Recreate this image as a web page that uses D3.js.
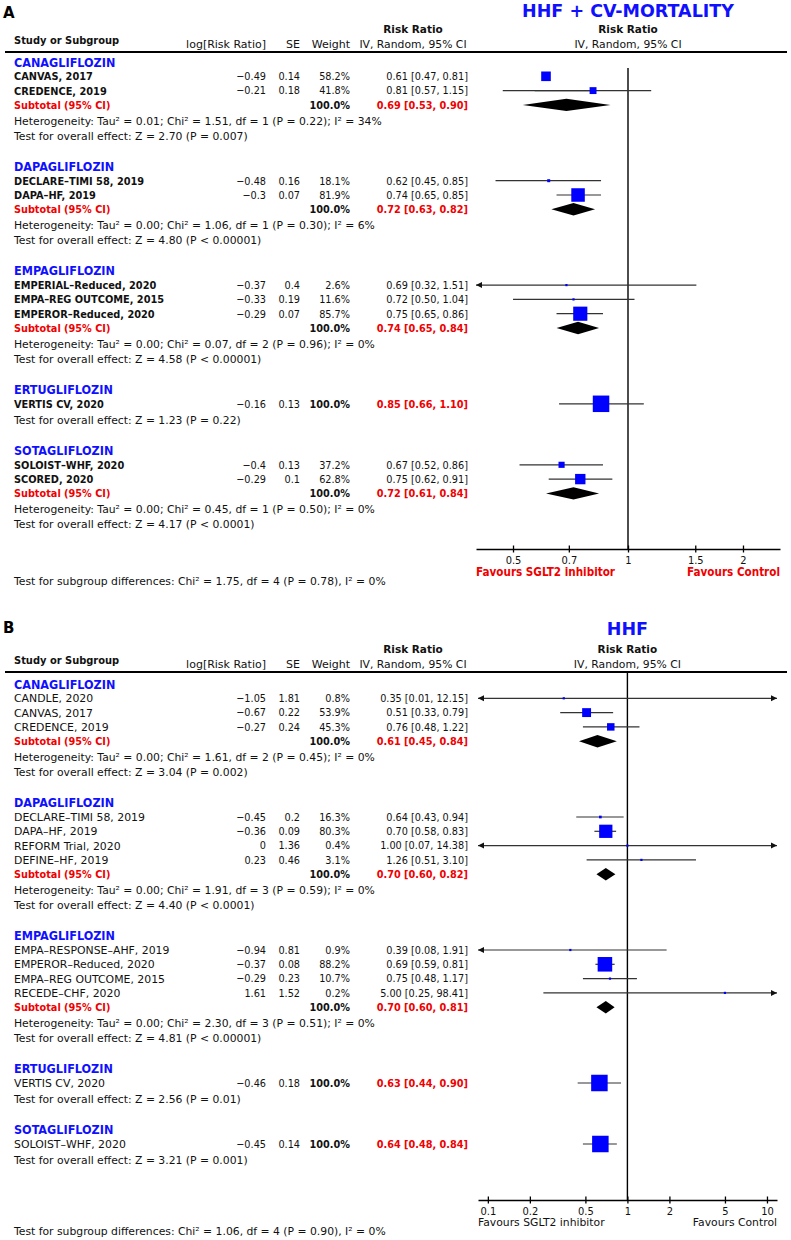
<!DOCTYPE html>
<html><head><meta charset="utf-8">
<script src="https://cdn.jsdelivr.net/npm/d3@7"></script>
<style>
body{margin:0;background:#fff}
svg text{fill:#111}
</style>
</head><body><svg id="c" width="791" height="1240"></svg>
<script>
// ---------------- DATA : panel A (HHF + CV-MORTALITY) ----------------
const groupsA = ["CANAGLIFLOZIN","DAPAGLIFLOZIN","EMPAGLIFLOZIN","ERTUGLIFLOZIN","SOTAGLIFLOZIN"];
const studiesA = [
  {g:0, name:"CANVAS, 2017",          logRR:-0.49, se:0.14, w:58.2,  rr:0.61, lo:0.47, hi:0.81},
  {g:0, name:"CREDENCE, 2019",        logRR:-0.21, se:0.18, w:41.8,  rr:0.81, lo:0.57, hi:1.15},
  {g:1, name:"DECLARE–TIMI 58, 2019", logRR:-0.48, se:0.16, w:18.1,  rr:0.62, lo:0.45, hi:0.85},
  {g:1, name:"DAPA–HF, 2019",         logRR:-0.3,  se:0.07, w:81.9,  rr:0.74, lo:0.65, hi:0.85},
  {g:2, name:"EMPERIAL–Reduced, 2020",logRR:-0.37, se:0.4,  w:2.6,   rr:0.69, lo:0.32, hi:1.51},
  {g:2, name:"EMPA–REG OUTCOME, 2015",logRR:-0.33, se:0.19, w:11.6,  rr:0.72, lo:0.50, hi:1.04},
  {g:2, name:"EMPEROR–Reduced, 2020", logRR:-0.29, se:0.07, w:85.7,  rr:0.75, lo:0.65, hi:0.86},
  {g:3, name:"VERTIS CV, 2020",       logRR:-0.16, se:0.13, w:100.0, rr:0.85, lo:0.66, hi:1.10},
  {g:4, name:"SOLOIST–WHF, 2020",     logRR:-0.4,  se:0.13, w:37.2,  rr:0.67, lo:0.52, hi:0.86},
  {g:4, name:"SCORED, 2020",          logRR:-0.29, se:0.1,  w:62.8,  rr:0.75, lo:0.62, hi:0.91}
];
const subtotalsA = [
  {rr:0.69, lo:0.53, hi:0.90}, {rr:0.72, lo:0.63, hi:0.82}, {rr:0.74, lo:0.65, hi:0.84},
  null, {rr:0.72, lo:0.61, hi:0.84}
];
const hetA = [
  "Heterogeneity: Tau² = 0.01; Chi² = 1.51, df = 1 (P = 0.22); I² = 34%",
  "Heterogeneity: Tau² = 0.00; Chi² = 1.06, df = 1 (P = 0.30); I² = 6%",
  "Heterogeneity: Tau² = 0.00; Chi² = 0.07, df = 2 (P = 0.96); I² = 0%",
  null,
  "Heterogeneity: Tau² = 0.00; Chi² = 0.45, df = 1 (P = 0.50); I² = 0%"
];
const overallA = [
  "Test for overall effect: Z = 2.70 (P = 0.007)",
  "Test for overall effect: Z = 4.80 (P < 0.00001)",
  "Test for overall effect: Z = 4.58 (P < 0.00001)",
  "Test for overall effect: Z = 1.23 (P = 0.22)",
  "Test for overall effect: Z = 4.17 (P < 0.0001)"
];
const ticksA = [0.5, 0.7, 1, 1.5, 2];
const axisDomainA = [0.4, 2.5];
const subgroupDiffA = "Test for subgroup differences: Chi² = 1.75, df = 4 (P = 0.78), I² = 0%";

// ---------------- DATA : panel B (HHF) ----------------
const groupsB = ["CANAGLIFLOZIN","DAPAGLIFLOZIN","EMPAGLIFLOZIN","ERTUGLIFLOZIN","SOTAGLIFLOZIN"];
const studiesB = [
  {g:0, name:"CANDLE, 2020",            logRR:-1.05, se:1.81, w:0.8,   rr:0.35, lo:0.01, hi:12.15},
  {g:0, name:"CANVAS, 2017",            logRR:-0.67, se:0.22, w:53.9,  rr:0.51, lo:0.33, hi:0.79},
  {g:0, name:"CREDENCE, 2019",          logRR:-0.27, se:0.24, w:45.3,  rr:0.76, lo:0.48, hi:1.22},
  {g:1, name:"DECLARE–TIMI 58, 2019",   logRR:-0.45, se:0.2,  w:16.3,  rr:0.64, lo:0.43, hi:0.94},
  {g:1, name:"DAPA–HF, 2019",           logRR:-0.36, se:0.09, w:80.3,  rr:0.70, lo:0.58, hi:0.83},
  {g:1, name:"REFORM Trial, 2020",      logRR:0,     se:1.36, w:0.4,   rr:1.00, lo:0.07, hi:14.38},
  {g:1, name:"DEFINE–HF, 2019",         logRR:0.23,  se:0.46, w:3.1,   rr:1.26, lo:0.51, hi:3.10},
  {g:2, name:"EMPA–RESPONSE–AHF, 2019", logRR:-0.94, se:0.81, w:0.9,   rr:0.39, lo:0.08, hi:1.91},
  {g:2, name:"EMPEROR–Reduced, 2020",   logRR:-0.37, se:0.08, w:88.2,  rr:0.69, lo:0.59, hi:0.81},
  {g:2, name:"EMPA–REG OUTCOME, 2015",  logRR:-0.29, se:0.23, w:10.7,  rr:0.75, lo:0.48, hi:1.17},
  {g:2, name:"RECEDE–CHF, 2020",        logRR:1.61,  se:1.52, w:0.2,   rr:5.00, lo:0.25, hi:98.41},
  {g:3, name:"VERTIS CV, 2020",         logRR:-0.46, se:0.18, w:100.0, rr:0.63, lo:0.44, hi:0.90},
  {g:4, name:"SOLOIST–WHF, 2020",       logRR:-0.45, se:0.14, w:100.0, rr:0.64, lo:0.48, hi:0.84}
];
const subtotalsB = [
  {rr:0.61, lo:0.45, hi:0.84}, {rr:0.70, lo:0.60, hi:0.82}, {rr:0.70, lo:0.60, hi:0.81}, null, null
];
const hetB = [
  "Heterogeneity: Tau² = 0.00; Chi² = 1.61, df = 2 (P = 0.45); I² = 0%",
  "Heterogeneity: Tau² = 0.00; Chi² = 1.91, df = 3 (P = 0.59); I² = 0%",
  "Heterogeneity: Tau² = 0.00; Chi² = 2.30, df = 3 (P = 0.51); I² = 0%",
  null, null
];
const overallB = [
  "Test for overall effect: Z = 3.04 (P = 0.002)",
  "Test for overall effect: Z = 4.40 (P < 0.0001)",
  "Test for overall effect: Z = 4.81 (P < 0.00001)",
  "Test for overall effect: Z = 2.56 (P = 0.01)",
  "Test for overall effect: Z = 3.21 (P = 0.001)"
];
const ticksB = [0.1, 0.2, 0.5, 1, 2, 5, 10];
const axisDomainB = [0.085, 11.8];
const subgroupDiffB = "Test for subgroup differences: Chi² = 1.06, df = 4 (P = 0.90), I² = 0%";

// quirk of the original figure: CANVAS CI whisker printed on the next row in panel A
const ciRowShiftA = {"CANVAS, 2017": 1};

// ---------------- DRAWING ----------------
const BLUE = "#1010ff", RED = "#f00000";
const FN = "'DejaVu Sans',sans-serif";
const FC = "'DejaVu Sans Condensed','DejaVu Sans',sans-serif";
const svg = d3.select("#c");

function fmtNum(v){ return (v < 0 ? "−" : "") + String(Math.abs(v)); }
function fmtRR(d){ return d.rr.toFixed(2) + " [" + d.lo.toFixed(2) + ", " + d.hi.toFixed(2) + "]"; }

function text(g, x, y, s, o = {}) {
  return g.append("text").attr("x", x).attr("y", y).attr("dy", o.dy ?? "0.36em")
    .attr("text-anchor", o.anchor || "start")
    .attr("font-size", o.size || 10.8)
    .attr("font-weight", o.weight || "normal")
    .style("font-family", o.family || FN)
    .style("fill", o.fill || "#111")
    .text(s);
}

function drawPanel(cfg, d) {
  const g = svg.append("g");
  const x = d3.scaleLog().domain(d.domain).range(cfg.xr);
  const cx = {logRR:266, se:300, w:350, rr:468};
  const P = 14.3, HET = 16.2, TEST = 14.8, GAP = 30.5;
  const num = {family:FC, size:10.8, anchor:"end"};

  // panel letter + title
  text(g, 3, cfg.letterY, cfg.letter, {dy:0, size:15, weight:"bold", fill:"#000"});
  text(g, x(1), cfg.titleY, cfg.title, {dy:0, size:17.5, weight:"bold", anchor:"middle", fill:BLUE});

  // header
  const hy = cfg.lineY;
  text(g, 14, hy - 8, "Study or Subgroup", {dy:0, weight:"bold", size:11, family:FC});
  text(g, cx.logRR, hy - 4, "log[Risk Ratio]", {dy:0, anchor:"end", size:11});
  text(g, cx.se, hy - 4, "SE", {dy:0, anchor:"end", size:11});
  text(g, cx.w, hy - 4, "Weight", {dy:0, anchor:"end", size:11});
  text(g, 413, hy - 19, "Risk Ratio", {dy:0, anchor:"middle", weight:"bold", size:10.5});
  text(g, 413, hy - 4, "IV, Random, 95% CI", {dy:0, anchor:"middle"});
  text(g, x(1), hy - 19, "Risk Ratio", {dy:0, anchor:"middle", weight:"bold", size:10.5});
  text(g, x(1), hy - 4, "IV, Random, 95% CI", {dy:0, anchor:"middle"});
  g.append("line").attr("x1", 5).attr("x2", 787).attr("y1", hy).attr("y2", hy)
    .attr("stroke", "#000").attr("stroke-width", 2);

  // rows layout
  let y = cfg.firstY;
  const rows = [];
  d.groups.forEach((gname, gi) => {
    rows.push({type:"group", y, label:gname});
    const st = d.studies.filter(s => s.g === gi);
    st.forEach(s => { y += P; rows.push({type:"study", y, s, single: st.length === 1}); });
    if (d.subtotals[gi]) {
      y += P; rows.push({type:"sub", y, s:d.subtotals[gi]});
      y += HET; rows.push({type:"note", y, label:d.het[gi]});
      y += TEST; rows.push({type:"note", y, label:d.overall[gi]});
    } else {
      y += HET; rows.push({type:"note", y, label:d.overall[gi]});
    }
    y += GAP;
  });
  const studyRows = rows.filter(q => q.type === "study");

  // null line
  g.append("line").attr("x1", x(1)).attr("x2", x(1)).attr("y1", cfg.vTop).attr("y2", cfg.axisY)
    .attr("stroke", "#000").attr("stroke-width", 1.4);

  const sizeScale = d3.scaleLinear().domain([0, 100]).range([0, 16.5]);
  const [d0, d1] = d.domain;
  const arrow = (xx, yy, dir) => g.append("path")
    .attr("d", `M${xx},${yy} l${dir*6},-3 l0,6 z`).attr("fill", "#111");

  rows.forEach(r => {
    if (r.type === "group") {
      text(g, 14, r.y, r.label, {weight:"bold", fill:BLUE, size:12.5, family:FC});
    } else if (r.type === "note") {
      text(g, 14, r.y, r.label, {size:10.8});
    } else if (r.type === "study") {
      const s = r.s;
      if (cfg.boldNames) text(g, 14, r.y, s.name, {weight:"bold", family:FC, size:10.9});
      else text(g, 14, r.y, s.name, {size:10.9});
      text(g, cx.logRR, r.y, fmtNum(s.logRR), num);
      text(g, cx.se, r.y, fmtNum(s.se), num);
      text(g, cx.w, r.y, s.w.toFixed(1) + "%", Object.assign({}, num, {weight: r.single ? "bold" : "normal"}));
      text(g, cx.rr, r.y, fmtRR(s), Object.assign({}, num, {weight: r.single ? "bold" : "normal", fill: r.single ? RED : "#111"}));
      // CI whisker
      const shift = (cfg.ciShift && cfg.ciShift[s.name]) || 0;
      const ly = studyRows[studyRows.indexOf(r) + shift].y;
      const xa = x(Math.max(s.lo, d0)), xb = x(Math.min(s.hi, d1));
      g.append("line").attr("x1", xa).attr("x2", xb).attr("y1", ly).attr("y2", ly)
        .attr("stroke", "#333").attr("stroke-width", 1.2);
      if (s.lo < d0) arrow(xa, ly, 1);
      if (s.hi > d1) arrow(xb, ly, -1);
      const sz = Math.max(2.2, sizeScale(s.w));
      g.append("rect").attr("x", x(s.rr) - sz/2).attr("y", r.y - sz/2)
        .attr("width", sz).attr("height", sz).attr("fill", "#0000ff");
    } else if (r.type === "sub") {
      const s = r.s;
      text(g, 14, r.y, "Subtotal (95% CI)", {weight:"bold", fill:RED, family:FC});
      text(g, cx.w, r.y, "100.0%", Object.assign({}, num, {weight:"bold"}));
      text(g, cx.rr, r.y, fmtRR(s), Object.assign({}, num, {weight:"bold", fill:RED}));
      const h = 6.2;
      g.append("path").attr("d", `M${x(s.lo)},${r.y} L${x(s.rr)},${r.y - h} L${x(s.hi)},${r.y} L${x(s.rr)},${r.y + h} Z`)
        .attr("fill", "#000");
    }
  });

  // axis
  const ax = g.append("g").attr("transform", `translate(0,${cfg.axisY})`)
    .call(d3.axisBottom(x).tickValues(d.ticks).tickFormat(v => String(v)).tickSizeOuter(0).tickSizeInner(3).tickPadding(4));
  ax.select(".domain").attr("stroke", "#000").attr("stroke-width", 1.5);
  ax.selectAll(".tick line").attr("y1", -3.5).attr("y2", 3.5).attr("stroke", "#000").attr("stroke-width", 1.3);
  ax.selectAll(".tick text").attr("font-size", 11).style("font-family", FC).style("fill", "#111");

  if (cfg.favBold) {
    const fav = {weight:"bold", fill:cfg.favColor, dy:0, size:11.6, family:FC};
    text(g, cfg.xr[0], cfg.favY, "Favours SGLT2 inhibitor", fav);
    text(g, cfg.xr[1], cfg.favY, "Favours Control", Object.assign({}, fav, {anchor:"end"}));
  } else {
    const fav = {fill:cfg.favColor, dy:0, size:10.8};
    text(g, cfg.xr[0], cfg.favY, "Favours SGLT2 inhibitor", fav);
    text(g, cfg.xr[1], cfg.favY, "Favours Control", Object.assign({}, fav, {anchor:"end"}));
  }

  text(g, 14, cfg.diffY, d.diff, {dy:0, size:10.8});
}

drawPanel({letter:"A", letterY:18, title:"HHF + CV-MORTALITY", titleY:17, lineY:52, firstY:62, vTop:68,
           axisY:549, favY:576, diffY:585, xr:[476, 780], boldNames:true, favBold:true, favColor:RED, ciShift:ciRowShiftA},
          {groups:groupsA, studies:studiesA, subtotals:subtotalsA, het:hetA, overall:overallA,
           ticks:ticksA, domain:axisDomainA, diff:subgroupDiffA});

drawPanel({letter:"B", letterY:633, title:"HHF", titleY:635, lineY:672, firstY:684, vTop:673,
           axisY:1200, favY:1226, diffY:1235, xr:[478, 777], boldNames:false, favBold:false, favColor:"#111"},
          {groups:groupsB, studies:studiesB, subtotals:subtotalsB, het:hetB, overall:overallB,
           ticks:ticksB, domain:axisDomainB, diff:subgroupDiffB});
</script>
</body></html>
